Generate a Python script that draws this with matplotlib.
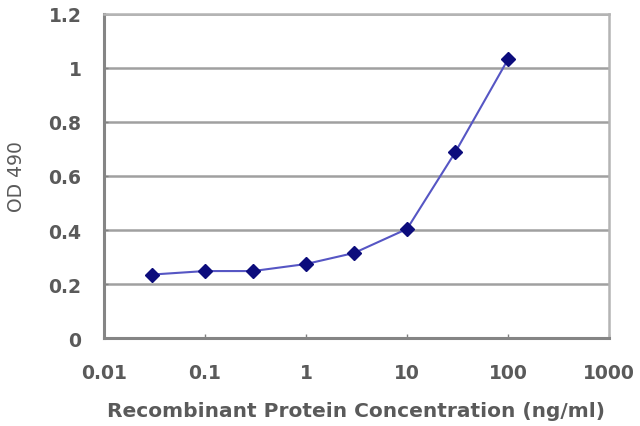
import matplotlib
matplotlib.use("Agg")
import matplotlib.pyplot as plt
from matplotlib.ticker import FixedLocator, FixedFormatter, NullLocator

conc = [0.03, 0.1, 0.3, 1, 3, 10, 30, 100]
od = [0.235, 0.248, 0.248, 0.274, 0.315, 0.404, 0.688, 1.033]
xticks = [0.01, 0.1, 1, 10, 100, 1000]
xtick_labels = ["0.01", "0.1", "1", "10", "100", "1000"]
yticks = [0, 0.2, 0.4, 0.6, 0.8, 1, 1.2]
ytick_labels = ["0", "0.2", "0.4", "0.6", "0.8", "1", "1.2"]

plt.rcParams['font.family'] = ['DejaVu Sans']
plt.rcParams['xtick.direction'] = 'in'
plt.rcParams['ytick.direction'] = 'in'
plt.rcParams['xtick.major.pad'] = 18
plt.rcParams['ytick.major.pad'] = 16
plt.rcParams['xtick.major.size'] = 3
plt.rcParams['ytick.major.size'] = 3

fig = plt.figure(figsize=(6.4, 4.27), dpi=100)
ax = fig.add_axes([0.162, 0.206, 0.79, 0.759])
ax.set_xscale('log')
ax.set_xlim(0.01, 1000)
ax.set_ylim(0, 1.2)
for y in yticks[1:]:
    ax.axhline(y, color='#a0a0a0', lw=1.8, zorder=1)
ax.plot(conc, od, color='#5656c4', lw=1.5, marker='D', ms=7,
        mfc='#0c0c7c', mec='#0c0c7c', zorder=3)
ax.xaxis.set_major_locator(FixedLocator(xticks))
ax.xaxis.set_major_formatter(FixedFormatter(xtick_labels))
ax.xaxis.set_minor_locator(NullLocator())
ax.yaxis.set_major_locator(FixedLocator(yticks))
ax.yaxis.set_major_formatter(FixedFormatter(ytick_labels))
ax.tick_params(axis='both', color='#808080', width=1,
               labelsize=13.5, labelcolor='#5a5a5a')
for lab in ax.get_xticklabels() + ax.get_yticklabels():
    lab.set_fontweight('bold')
for s in ['left', 'bottom']:
    ax.spines[s].set_color('#858585')
    ax.spines[s].set_linewidth(2.2)
for s in ['right', 'top']:
    ax.spines[s].set_color('#b4b4b4')
    ax.spines[s].set_linewidth(1.8)
ax.set_xlabel("Recombinant Protein Concentration (ng/ml)", fontsize=14.5,
              fontweight='bold', color='#5a5a5a')
ax.set_ylabel("OD 490", fontsize=13.5, color='#5a5a5a')
ax.xaxis.set_label_coords(0.5, -0.195)
ax.yaxis.set_label_coords(-0.153, 0.5)
fig.savefig("out.png", dpi=100)
